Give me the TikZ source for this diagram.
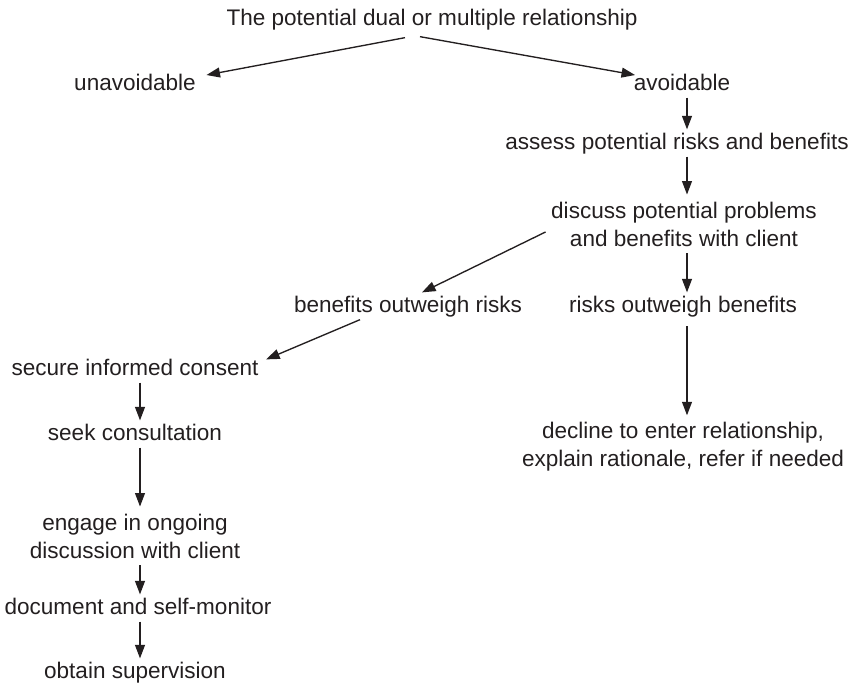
\documentclass[tikz,border=0pt]{standalone}
\usepackage{fontspec}
\setmainfont{Liberation Sans}
\usepackage{tikz}
\usetikzlibrary{arrows.meta}
\definecolor{ink}{HTML}{231F20}

\begin{document}
\begin{tikzpicture}[x=0.0156cm, y=-0.0156cm, font=\fontsize{10}{12.4}\selectfont, color=ink,
  every node/.style={inner sep=1pt},
  oneline/.style={anchor=base, text height=7.5pt, text depth=2.2pt},
  twoline/.style={align=center, inner ysep=3pt},
  arr/.style={-{Triangle[length=6pt,width=4.4pt]}, line width=0.6pt}]
\useasboundingbox (0,0) rectangle (859,687);
% the two vertical spines the straight arrows run along
\coordinate (leftspine) at (140,0);
\coordinate (rightspine) at (687,0);

\node[oneline] (relation) at (432,25) {The potential dual or multiple relationship};
\node[oneline] (unavoid) at (135,90) {unavoidable};
\node[oneline] (avoid) at (682,90) {avoidable};
\node[oneline] (assess) at (677,149) {assess potential risks and benefits};
\node[twoline] (discuss) at (684,224) {discuss potential problems\\and benefits with client};
\node[oneline] (benefits) at (408,312) {benefits outweigh risks};
\node[oneline] (risks) at (683,312) {risks outweigh benefits};
\node[twoline] (decline) at (683,447) {decline to enter relationship,\\explain rationale, refer if needed};
\node[oneline] (consent) at (135,375) {secure informed consent};
\node[oneline] (consult) at (135,440) {seek consultation};
\node[twoline] (engage) at (135,536) {engage in ongoing\\discussion with client};
\node[oneline] (document) at (138,614) {document and self-monitor};
\node[oneline] (supervise) at (135,678) {obtain supervision};

% split at the top
\draw[arr] ([shift={(-27,5)}]relation.south) -- ([shift={(8,-9)}]unavoid.east);
\draw[arr] ([shift={(-12,4)}]relation.south) -- ([shift={(4,-9)}]avoid.west);

% avoidable branch
\draw[arr] (avoid.south -| rightspine) -- (assess.north -| rightspine);
\draw[arr] (assess.south -| rightspine) -- (discuss.north -| rightspine);
\draw[arr] (discuss.south -| rightspine) -- (risks.north -| rightspine);
\draw[arr, shorten <=3pt] (risks.south -| rightspine) -- (decline.north -| rightspine);
\draw[arr] ([shift={(-3,8)}]discuss.west) -- ([shift={(14,0)}]benefits.north);
\draw[arr] ([shift={(-48,0)}]benefits.south) -- ([shift={(5,4)}]consent.north east);

% benefits outweigh risks
\draw[arr] (consent.south -| leftspine) -- (consult.north -| leftspine);
\draw[arr] (consult.south -| leftspine) -- (engage.north -| leftspine);
\draw[arr] (engage.south -| leftspine) -- (document.north -| leftspine);
\draw[arr] (document.south -| leftspine) -- (supervise.north -| leftspine);
\end{tikzpicture}
\end{document}
